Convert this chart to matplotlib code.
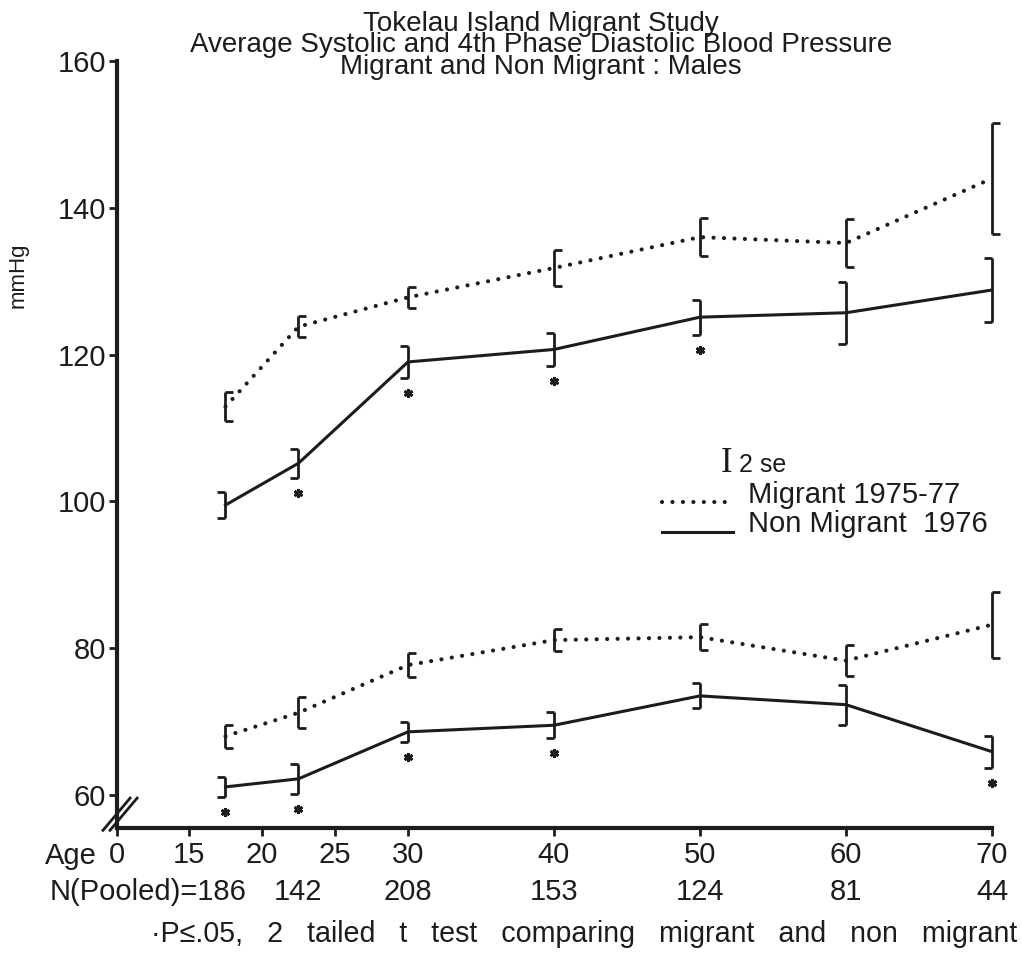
import matplotlib
matplotlib.use("Agg")
import matplotlib.pyplot as plt
from matplotlib.path import Path
from matplotlib.lines import Line2D
from matplotlib.transforms import offset_copy

plt.rcParams["font.family"] = ["Liberation Sans", "DejaVu Sans"]

# age group centres and pooled N
AGES = [17.5, 22.5, 30, 40, 50, 60, 70]
N_POOLED = ["186", "142", "208", "153", "124", "81", "44"]

# systolic (mmHg) and 2 se
SYS_MIG = [112.9, 123.8, 127.8, 131.8, 136.0, 135.2, 144.0]
SYS_MIG_SE2 = [2.0, 1.4, 1.4, 2.4, 2.6, 3.3, 7.6]
SYS_NON = [99.5, 105.2, 119.0, 120.7, 125.1, 125.7, 128.8]
SYS_NON_SE2 = [1.8, 2.0, 2.2, 2.3, 2.4, 4.2, 4.4]
# 4th phase diastolic
DIA_MIG = [68.0, 71.2, 77.7, 81.1, 81.5, 78.3, 83.2]
DIA_MIG_SE2 = [1.6, 2.1, 1.6, 1.5, 1.8, 2.1, 4.5]
DIA_NON = [61.1, 62.2, 68.6, 69.5, 73.5, 72.3, 65.9]
DIA_NON_SE2 = [1.4, 2.0, 1.4, 1.8, 1.7, 2.7, 2.2]
# p <= .05 flags
SYS_SIG = [False, True, True, True, True, False, False]
DIA_SIG = [True, True, True, True, False, False, True]

X_TICKS = [10.07, 15, 20, 25, 30, 40, 50, 60, 70]
X_TICK_LABELS = ["0", "15", "20", "25", "30", "40", "50", "60", "70"]
Y_TICKS = [60, 80, 100, 120, 140, 160]

TITLE = ["Tokelau Island Migrant Study",
         "Average Systolic and 4th Phase Diastolic Blood Pressure",
         "Migrant and Non Migrant : Males"]

INK = "#1c1c1c"
W, H = 1022, 955

fig = plt.figure(figsize=(W / 100, H / 100), dpi=100)
ax = fig.add_axes([117 / W, 1 - 828 / H, 875 / W, 767 / H])
ax.set_xlim(10.07, 70)
ax.set_ylim(55.5, 160)

CAP_RIGHT = Path([(0, 0), (1, 0)], [Path.MOVETO, Path.LINETO])
CAP_LEFT = Path([(0, 0), (-1, 0)], [Path.MOVETO, Path.LINETO])
DOTTED = dict(linestyle=(0, (0.01, 2.5)), linewidth=3.0, dash_capstyle="round")
SOLID = dict(linestyle="-", linewidth=2.2)


def draw_series(y, err, line_kw, cap):
    ax.plot(AGES, y, color=INK, zorder=3, clip_on=False, **line_kw)
    ebar = ax.errorbar(AGES, y, yerr=err, fmt="none", ecolor=INK, elinewidth=2.0,
                       capsize=0, zorder=4)
    for coll in ebar[2]:
        coll.set_clip_on(False)
    lo = [v - e for v, e in zip(y, err)]
    hi = [v + e for v, e in zip(y, err)]
    for ends in (lo, hi):
        ax.plot(AGES, ends, ls="none", marker=cap, ms=11.5, mew=2.0,
                mec=INK, mfc="none", zorder=4, clip_on=False)
    return lo


def draw_stars(lo, sig):
    tr = offset_copy(ax.transData, fig=fig, y=-15, units="dots")
    xs = [a for a, s in zip(AGES, sig) if s]
    ys = [v for v, s in zip(lo, sig) if s]
    ax.plot(xs, ys, ls="none", marker=(6, 2, 0), ms=6.5, mew=2.0, mec=INK,
            transform=tr, zorder=4, clip_on=False)


draw_series(SYS_MIG, SYS_MIG_SE2, DOTTED, CAP_RIGHT)
lo = draw_series(SYS_NON, SYS_NON_SE2, SOLID, CAP_LEFT)
draw_stars(lo, SYS_SIG)
draw_series(DIA_MIG, DIA_MIG_SE2, DOTTED, CAP_RIGHT)
lo = draw_series(DIA_NON, DIA_NON_SE2, SOLID, CAP_LEFT)
draw_stars(lo, DIA_SIG)

# axes
for side in ("top", "right"):
    ax.spines[side].set_visible(False)
for side in ("left", "bottom"):
    ax.spines[side].set_linewidth(3.0)
    ax.spines[side].set_color(INK)
ax.set_xticks(X_TICKS, X_TICK_LABELS)
ax.set_yticks(Y_TICKS)
ax.tick_params(axis="x", length=6, width=2, pad=3, labelsize=21, colors=INK)
ax.tick_params(axis="y", length=6, width=2, pad=2, labelsize=21, colors=INK)

# axis break marks on y axis
for dx in (0.0, 0.008):
    ax.plot([-0.016 + dx, 0.015 + dx], [-0.003, 0.039], transform=ax.transAxes,
            color=INK, lw=2.0, clip_on=False, zorder=5)

# x annotations
fig.text(97 / W, 1 - 864 / H, "Age", ha="right", va="baseline", fontsize=21, color=INK)
for i, (a, n) in enumerate(zip(AGES, N_POOLED)):
    if i == 0:
        ax.annotate("N(Pooled)=" + n, xy=(a, 0), xycoords=("data", "axes fraction"),
                    xytext=(15, -52), textcoords="offset points", ha="right",
                    va="baseline", fontsize=21, color=INK)
    else:
        ax.annotate(n, xy=(a, 0), xycoords=("data", "axes fraction"),
                    xytext=(0, -52), textcoords="offset points", ha="center",
                    va="baseline", fontsize=21, color=INK)

fig.text(1017 / W, 1 - 942 / H,
         "\u00b7P\u2264.05,   2   tailed   t   test   comparing   migrant   and   non   migrant",
         ha="right", va="baseline", fontsize=20.6, color=INK)

fig.text(18 / W, 1 - 275 / H, "mmHg", rotation=90, ha="center", va="center",
         fontsize=16, color=INK)

# title
fig.text(541 / W, 1 - 74 / H, "\n".join(TITLE), ha="center", va="baseline",
         fontsize=20, linespacing=0.78, multialignment="center", color=INK)

# legend
fig.text(727 / W, 1 - 463 / H, "I", ha="center", va="center", fontsize=25,
         family=["Liberation Serif", "DejaVu Serif"], color=INK)
fig.text(739 / W, 1 - 472 / H, "2 se", ha="left", va="baseline", fontsize=18, color=INK)
fig.add_artist(Line2D([662 / W, 733 / W], [1 - 502 / H] * 2, color=INK, **DOTTED))
fig.text(748 / W, 1 - 503 / H, "Migrant 1975-77", ha="left", va="baseline",
         fontsize=21, color=INK)
fig.add_artist(Line2D([662 / W, 733 / W], [1 - 532 / H] * 2, color=INK, **SOLID))
fig.text(748 / W, 1 - 532 / H, "Non Migrant  1976", ha="left", va="baseline",
         fontsize=21, color=INK)

fig.savefig("out.png", dpi=100, facecolor="white")
